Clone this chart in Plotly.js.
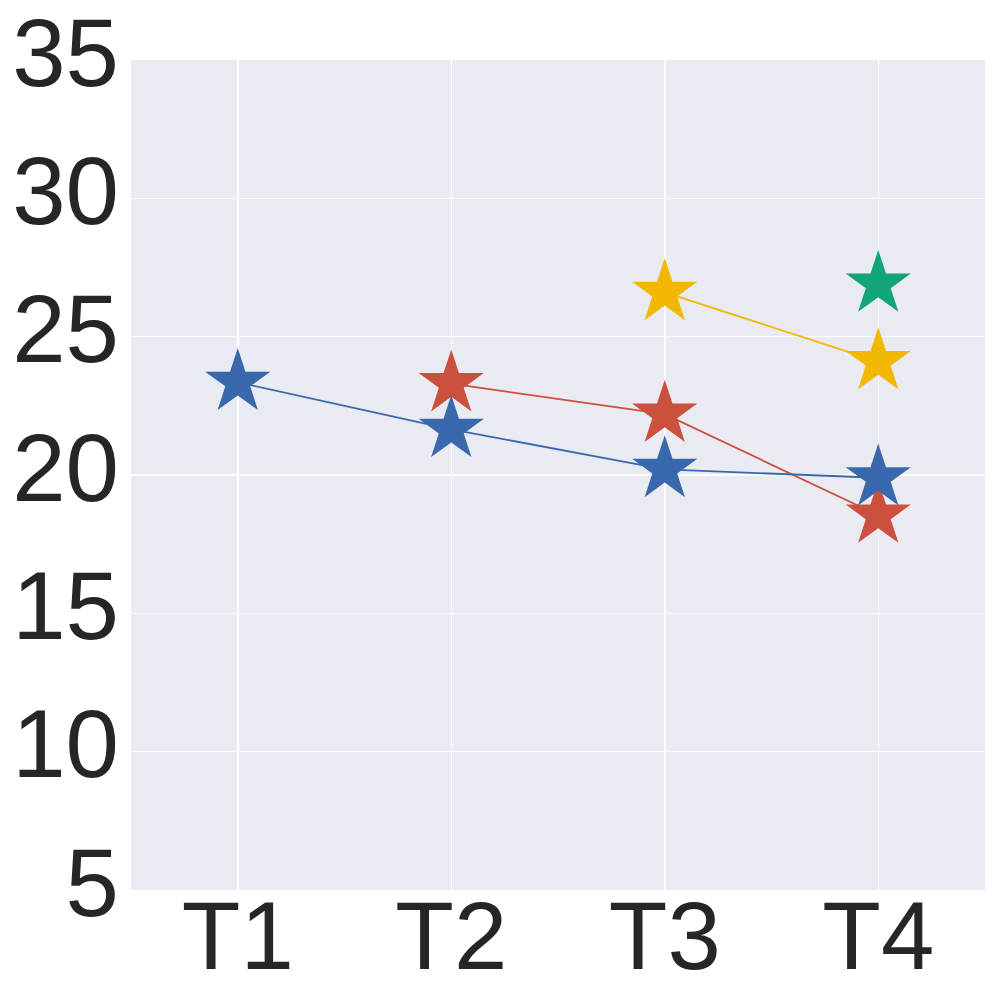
<!DOCTYPE html>
<html>
<head>
<meta charset="utf-8">
<script src="https://cdn.plot.ly/plotly-3.0.1.min.js"></script>
<style>
  html, body { margin: 0; padding: 0; background: #fff; }
  #chart { width: 1000px; height: 1000px; }
</style>
</head>
<body>
<div id="chart"></div>
<script>
// time points
const categories = ['T1', 'T2', 'T3', 'T4'];

// series values (null = no point at that time)
const blueValues   = [23.35, 21.65, 20.2, 19.9];
const redValues    = [null, 23.3, 22.2, 18.55];
const yellowValues = [null, null, 26.6, 24.1];
const greenValues  = [null, null, null, 26.9];

const yTicks = [5, 10, 15, 20, 25, 30, 35];

function series(values, color) {
    return {
        x: categories,
        y: values,
        type: 'scatter',
        mode: 'lines+markers',
        connectgaps: false,
        line: { color: color, width: 1.8 },
        marker: { symbol: 'star', size: 49, color: color, line: { width: 0 } },
        showlegend: false,
        hoverinfo: 'x+y'
    };
}

const data = [
    series(redValues, '#CC503E'),
    series(blueValues, '#3969AC'),
    series(yellowValues, '#F2B701'),
    series(greenValues, '#11A579')
];

const layout = {
    width: 1000,
    height: 1000,
    paper_bgcolor: '#ffffff',
    plot_bgcolor: '#EAEAF2',
    font: { family: 'Liberation Sans, Arial, sans-serif', color: '#262626', size: 96 },
    margin: { l: 131, r: 15, t: 60, b: 110, pad: 0 },
    xaxis: {
        type: 'category',
        range: [-0.5, 3.5],
        showgrid: true,
        gridcolor: '#ffffff',
        gridwidth: 1.5,
        zeroline: false,
        showline: false,
        ticks: '',
        ticklabelstandoff: -18,
        tickfont: { size: 96 }
    },
    yaxis: {
        range: [5, 35],
        tickvals: yTicks,
        ticktext: yTicks.map(String),
        showgrid: true,
        gridcolor: '#ffffff',
        gridwidth: 1.5,
        zeroline: false,
        showline: false,
        ticks: '',
        ticklabelstandoff: 11,
        ticklabelshift: -8,
        ticklabeloverflow: 'allow',
        tickfont: { size: 96 }
    }
};

Plotly.newPlot('chart', data, layout, { displayModeBar: false, staticPlot: true });
</script>
</body>
</html>
